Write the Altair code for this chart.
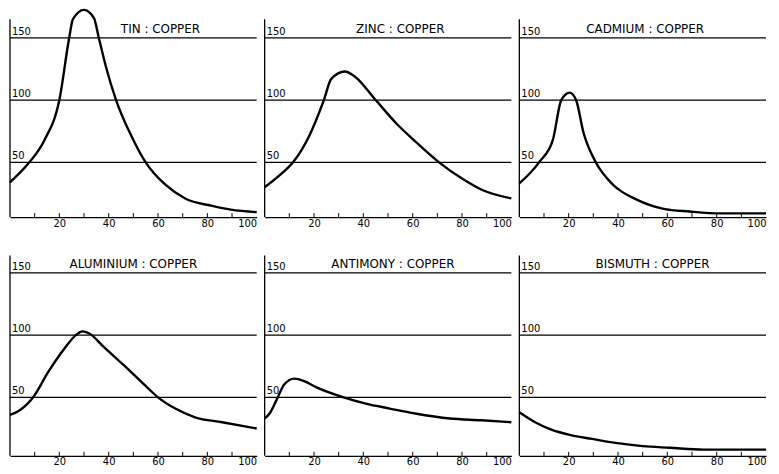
import altair as alt
import pandas as pd

# ---- data ----
titles = ["TIN : COPPER", "ZINC : COPPER", "CADMIUM : COPPER",
          "ALUMINIUM : COPPER", "ANTIMONY : COPPER", "BISMUTH : COPPER"]

tin_x = [0, 7.4, 14, 20, 24, 25.5, 30, 34, 36, 39, 43, 50, 55, 63, 71, 82, 89.5, 100]
tin_y = [34, 49, 68, 100, 150, 165, 172.5, 166, 150, 126, 100, 68, 50, 32, 21, 15, 12, 10]

zinc_x = [0, 6, 11.5, 18, 24, 27, 32.5, 36.5, 45, 53.5, 61.5, 70.7, 80, 88, 100]
zinc_y = [30, 39.5, 50, 71, 100, 117, 123, 119, 100, 81, 66, 50, 37, 28, 21]

cadmium_x = [0, 8, 13.6, 17, 20.4, 23, 26, 31, 38, 47.6, 58.5, 69, 81.6, 100]
cadmium_y = [33, 50, 68, 100, 106, 100, 74, 50, 32, 20, 12.6, 10.5, 9, 9]

aluminium_x = [0, 3.5, 9.4, 15.4, 22, 26.7, 29.3, 32, 38, 46, 54, 60, 67, 75, 86, 100]
aluminium_y = [36, 39, 50, 70, 89, 100, 103, 101.5, 90.5, 76, 61, 50, 41, 34, 30, 25]

antimony_x = [0, 2, 5.3, 8, 12, 16, 21, 32, 41, 50.7, 61, 75, 88, 100]
antimony_y = [33, 37, 50, 60.5, 65, 63, 58, 50, 45, 41, 37, 33, 31.6, 30]

bismuth_x = [0, 6.4, 13, 20, 29.6, 39, 50, 61, 74.6, 88, 100]
bismuth_y = [38, 30, 24, 20, 16.6, 13.4, 10.8, 9.5, 8, 8, 8]

grid_values = [50, 100, 150]
grid_labels = ["50", "100", "150"]
x_label_values = [20, 40, 60, 80, 100]
x_minor_ticks = [10, 20, 30, 40, 50, 60, 70, 80, 90]

series = [(tin_x, tin_y), (zinc_x, zinc_y), (cadmium_x, cadmium_y),
          (aluminium_x, aluminium_y), (antimony_x, antimony_y), (bismuth_x, bismuth_y)]

# ---- layout ----
W = 248
row_domains = [[6, 173], [3, 166]]
row_heights = [209, 204]
axis_tops = [165, 164]
title_pos = [61, 55, 51, 50, 52, 54]
FONT = "DejaVu Sans"
PAD = {"left": -3, "top": -5, "right": 0, "bottom": 0}


def panel(i):
    xs, ys = series[i]
    r = i // 3
    ydom = row_domains[r]
    H = row_heights[r]
    xsc = alt.Scale(domain=[0, 100], nice=False, zero=False)
    ysc = alt.Scale(domain=ydom, nice=False, zero=False)
    xaxis = alt.Axis(values=x_label_values, ticks=False, grid=False, title=None,
                     labelPadding=1, domainColor="black", domainWidth=1.2,
                     labelColor="black", labelFont=FONT, labelFontSize=10)

    curve = alt.Chart(pd.DataFrame({"x": xs, "y": ys})).mark_line(
        color="black", strokeWidth=2.4, interpolate="monotone"
    ).encode(
        x=alt.X("x:Q", scale=xsc, axis=xaxis),
        y=alt.Y("y:Q", scale=ysc, axis=None),
    )

    gdf = pd.DataFrame({"v": grid_values, "lab": grid_labels})
    grid = alt.Chart(gdf).mark_rule(color="black", strokeWidth=1.2).encode(
        y=alt.Y("v:Q", scale=ysc, axis=None)
    )
    glab = alt.Chart(gdf).mark_text(
        align="left", baseline="bottom", dx=2, dy=-1, font=FONT, fontSize=10, color="black"
    ).encode(
        x=alt.value(0),
        y=alt.Y("v:Q", scale=ysc, axis=None),
        text="lab:N",
    )

    yline = alt.Chart(pd.DataFrame({"lo": [ydom[0]], "hi": [axis_tops[r]]})).mark_rule(
        color="black", strokeWidth=1.3
    ).encode(
        x=alt.value(0),
        y=alt.Y("lo:Q", scale=ysc, axis=None),
        y2="hi:Q",
    )

    ticks = alt.Chart(pd.DataFrame({"t": x_minor_ticks})).mark_rule(
        color="black", strokeWidth=1
    ).encode(
        x=alt.X("t:Q", scale=xsc, axis=xaxis),
        y=alt.value(H),
        y2=alt.value(H - 4),
    )

    title = alt.Chart(pd.DataFrame({"tx": [title_pos[i]], "ty": [150], "s": [titles[i]]})).mark_text(
        align="center", baseline="bottom", dy=-2, font=FONT, fontSize=12, color="black"
    ).encode(
        x=alt.X("tx:Q", scale=xsc, axis=xaxis),
        y=alt.Y("ty:Q", scale=ysc, axis=None),
        text="s:N",
    )

    return alt.layer(grid, glab, yline, ticks, title, curve).properties(width=W, height=H)


chart = alt.concat(
    *[panel(i) for i in range(6)], columns=3,
    spacing={"row": 36, "column": 8}, bounds="flush", padding=PAD
).configure(background="white", padding=PAD).configure_view(stroke=None)

chart.save("out.html", embed_options={"renderer": "svg", "actions": False})
